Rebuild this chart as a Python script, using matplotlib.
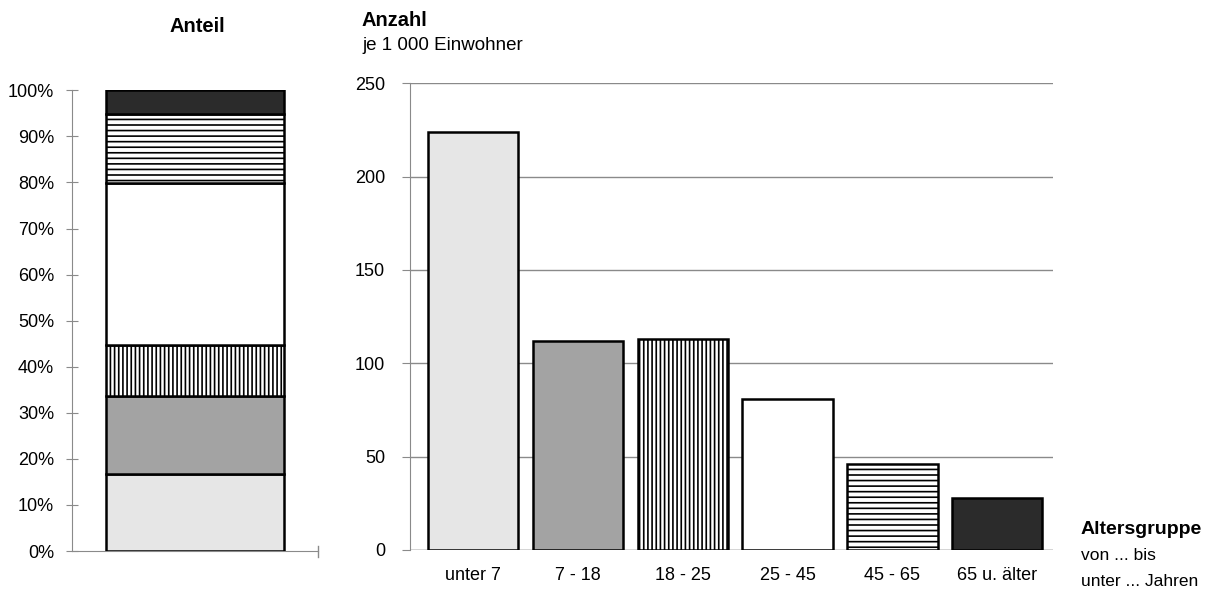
import numpy as np
import matplotlib
matplotlib.use('Agg')
import matplotlib.pyplot as plt

plt.rcParams['font.family'] = ['Liberation Sans', 'DejaVu Sans']
plt.rcParams['hatch.linewidth'] = 1.2

# ===== Data =====
gruppen = ["unter 7", "7 - 18", "18 - 25", "25 - 45", "45 - 65", "65 u. älter"]
anzahl = [224, 112, 113, 81, 46, 28]          # je 1 000 Einwohner
anteil = [16.7, 16.9, 11.1, 35.1, 15.0, 5.2]  # Prozent
farben = ["#e6e6e6", "#a3a3a3", "white", "white", "white", "#2b2b2b"]
muster = [None, None, "||||", None, "---", None]
grid_col = "#8a8a8a"

fig = plt.figure(figsize=(12.13, 5.90), dpi=100)

# ===== Left: stacked share =====
ax1 = fig.add_axes([0.059, 0.066, 0.203, 0.781])
bottom = 0
for v, c, h in zip(anteil, farben, muster):
    ax1.bar(0, v, bottom=bottom, width=0.724, color=c, edgecolor="black",
            linewidth=1.8, hatch=h, zorder=3)
    bottom += v
ax1.set_xlim(-0.5, 0.5); ax1.set_ylim(0, 100)
ax1.set_yticks(np.arange(0, 101, 10))
ax1.set_yticklabels([f"{t}%" for t in range(0, 101, 10)], fontsize=13)
ax1.set_xticks([])
for s in ["top", "right"]: ax1.spines[s].set_visible(False)
for s in ["left", "bottom"]: ax1.spines[s].set_color(grid_col)
ax1.tick_params(axis="y", direction="inout", length=9, color=grid_col, pad=8)
ax1.plot([1.0, 1.0], [-0.012, 0.012], transform=ax1.transAxes, color=grid_col,
         lw=1, clip_on=False)

# ===== Right: per 1000 inhabitants =====
ax2 = fig.add_axes([0.338, 0.068, 0.530, 0.791])
x = np.arange(len(gruppen))
for xi, v, c, h in zip(x, anzahl, farben, muster):
    ax2.bar(xi, v, width=0.86, color=c, edgecolor="black", linewidth=1.8,
            hatch=h, zorder=3)
ax2.set_xlim(-0.6, 5.53); ax2.set_ylim(0, 250)
ax2.set_yticks(np.arange(0, 251, 50))
ax2.set_yticklabels([str(t) for t in range(0, 251, 50)], fontsize=13)
ax2.yaxis.grid(True, color=grid_col, lw=1, zorder=0)
ax2.set_xticks(x)
ax2.set_xticklabels(gruppen, fontsize=13)
ax2.tick_params(axis="x", length=0, pad=12)
ax2.tick_params(axis="y", direction="out", length=6, color=grid_col, pad=12)
for s in ["top", "right", "bottom"]: ax2.spines[s].set_visible(False)
ax2.spines["left"].set_color(grid_col)
ax2.axhline(0, color=grid_col, lw=1, zorder=1)

# ===== Titles =====
fig.text(197 / 1213, 1 - 26 / 590, "Anteil", fontsize=14.5, fontweight="bold",
         ha="center", va="center")
fig.text(362 / 1213, 1 - 21 / 590, "Anzahl", fontsize=14.5, fontweight="bold", va="center")
fig.text(362 / 1213, 1 - 46 / 590, "je 1 000 Einwohner", fontsize=13.5, va="center")
fig.text(1081 / 1213, 1 - 530 / 590, "Altersgruppe", fontsize=14, fontweight="bold", va="center")
fig.text(1081 / 1213, 1 - 555 / 590, "von ... bis", fontsize=12.5, va="center")
fig.text(1081 / 1213, 1 - 581 / 590, "unter ... Jahren", fontsize=12.5, va="center")

fig.savefig("out.png", dpi=100)
